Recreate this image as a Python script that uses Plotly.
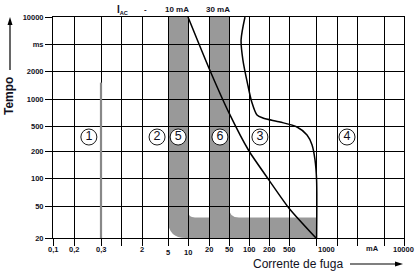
import numpy as np
import plotly.graph_objects as go

# ---------------- data ----------------
# schematic axis: values at each vertical grid line (mA) and their drawn positions
GRID_MA = [0.1, 0.2, 0.3, 1, 2, 5, 10, 20, 50, 100, 200, 500, 1000, 2000, 5000, 7000, 10000]
GRID_MS = [20, 50, 100, 200, 500, 1000, 2000, 5000, 10000]
Y_TICK_TEXT = ["20", "50", "100", "200", "500", "1000", "2000", "ms", "10000"]

X_TICK_TEXT = ["0,1", "0,2", "0,3", "2", "5", "10", "20", "50", "100", "200", "500", "1000", "mA", "10000"]

# gray bands (10 mA and 30 mA devices): mA limits
BAND5_MA = [5, 10]
BAND6_MA = [20, 50]
FOOT_END_MA = 1000
FOOT_TOP_MS = 36

# curve A (straight-ish)
CURVE_A_MA = [10, 20, 50, 100, 200, 500, 1000]
CURVE_A_MS = [10000, 2200, 700, 200, 95, 47, 20]

# curve B
CURVE_B_MA = [87, 76, 81, 96, 110, 132, 162, 331, 614, 794, 904, 975, 1020, 1020]
CURVE_B_MS = [10000, 5540, 2900, 1414, 926, 663, 614, 554, 482, 360, 250, 159, 95, 20]

# 0,3 mA threshold line
THRESH_MA = 0.3
THRESH_MS = [1500, 20]

ZONE_LABELS = ["1", "2", "5", "6", "3", "4"]
ZONE_MA = [0.25, 3.4, 7.1, 33, 146, 3162]
ZONE_MS = 334

# ---------------- layout (drawn positions, px) ----------------
W, H = 419, 273
L, R, T, B = 53, 15, 17, 35
GRID_XPOS = [53, 74, 101, 121, 142, 168, 188, 209, 229, 249, 269, 289, 316, 337, 357, 384, 404]
GRID_YPOS = [238, 206, 178, 151, 126, 99, 71, 44, 17]
X_LABEL_POS = [53, 74, 101, 142, 168, 188, 209, 229, 249, 269, 289, 326, 372, 403]
X_LABEL_Y = [249, 249, 249, 249, 252, 252, 249, 249, 249, 249, 249, 249, 248, 249]


def xpos(ma):
    return np.interp(np.log10(ma), np.log10(GRID_MA), GRID_XPOS)


def ypos(ms):
    return np.interp(np.log10(ms), np.log10(GRID_MS), GRID_YPOS)


def px(x):
    return (x - L) / (W - L - R)


def py(y):
    return (H - B - y) / (H - T - B)


FONT = "Liberation Sans, Arial, sans-serif"
INK = "#111122"

fig = go.Figure()

# gray band shape
b5l, b5r = xpos(BAND5_MA[0]), xpos(BAND5_MA[1])
b6l, b6r = xpos(BAND6_MA[0]), xpos(BAND6_MA[1])
fe = xpos(FOOT_END_MA)
top, bot = ypos(max(GRID_MS)), ypos(min(GRID_MS))
ft = ypos(FOOT_TOP_MS)
RO, RI5, RI6 = 18, 7, 10
path = (f"M {b5l},{top} L {b5l},{bot-RO} Q {b5l},{bot} {b5l+RO},{bot} "
        f"L {fe},{bot} L {fe},{ft} L {b6r+RI6},{ft} Q {b6r},{ft} {b6r},{ft-RI6} "
        f"L {b6r},{top} L {b6l},{top} L {b6l},{ft} L {b5r+RI5},{ft} "
        f"Q {b5r},{ft} {b5r},{ft-RI5} L {b5r},{top} Z")
fig.add_shape(type="path", path=path, xref="x", yref="y",
              fillcolor="#999999", line=dict(width=0), layer="below")

# axis-title arrows (paper coordinates)
fig.add_shape(type="line", xref="paper", yref="paper", x0=px(10), x1=px(10), y0=py(70), y1=py(24),
              line=dict(color="black", width=1.2))
fig.add_shape(type="path", xref="paper", yref="paper",
              path=f"M {px(10)},{py(17)} L {px(7.5)},{py(25)} L {px(12.5)},{py(25)} Z",
              fillcolor="black", line=dict(width=0))
fig.add_shape(type="line", xref="paper", yref="paper", x0=px(350), x1=px(396), y0=py(264), y1=py(264),
              line=dict(color="black", width=1.2))
fig.add_shape(type="path", xref="paper", yref="paper",
              path=f"M {px(403)},{py(264)} L {px(395)},{py(261.5)} L {px(395)},{py(266.5)} Z",
              fillcolor="black", line=dict(width=0))

# threshold line
fig.add_trace(go.Scatter(x=[xpos(THRESH_MA)] * 2, y=ypos(np.array(THRESH_MS)),
                         mode="lines", line=dict(color="#888888", width=2.2),
                         hoverinfo="skip", showlegend=False))

# curves
fig.add_trace(go.Scatter(x=xpos(np.array(CURVE_A_MA)), y=ypos(np.array(CURVE_A_MS)),
                         mode="lines", line=dict(color="black", width=1.5, shape="spline", smoothing=0.6),
                         hoverinfo="skip", showlegend=False))
fig.add_trace(go.Scatter(x=xpos(np.array(CURVE_B_MA)), y=ypos(np.array(CURVE_B_MS)),
                         mode="lines", line=dict(color="black", width=1.5, shape="spline", smoothing=0.8),
                         hoverinfo="skip", showlegend=False))

# zone markers
fig.add_trace(go.Scatter(x=xpos(np.array(ZONE_MA)), y=[ypos(ZONE_MS)] * len(ZONE_MA),
                         mode="markers+text", text=ZONE_LABELS, textposition="middle center",
                         textfont=dict(family=FONT, size=12.5, color=INK),
                         marker=dict(size=16, color="white", line=dict(color="black", width=0.9)),
                         cliponaxis=False, hoverinfo="skip", showlegend=False))

ann = []
for t, x, y in zip(X_TICK_TEXT, X_LABEL_POS, X_LABEL_Y):
    ann.append(dict(text=f"<b>{t}</b>", x=px(x), y=py(y), xref="paper", yref="paper",
                    showarrow=False, font=dict(family=FONT, size=7.5, color=INK),
                    xanchor="center", yanchor="middle"))

# top labels
for t, x in [("<span style='font-size:10px'>I</span><sub>AC</sub>", 122), ("-", 145),
             ("10 mA", 177), ("30 mA", 218)]:
    ann.append(dict(text=f"<b>{t}</b>", x=px(x), y=py(10), xref="paper", yref="paper",
                    showarrow=False, font=dict(family=FONT, size=8, color=INK),
                    xanchor="center", yanchor="middle"))

# axis titles
ann.append(dict(text="<b>Tempo</b>", x=px(9), y=py(96), xref="paper", yref="paper",
                showarrow=False, textangle=-90, font=dict(family=FONT, size=12, color=INK),
                xanchor="center", yanchor="middle"))
ann.append(dict(text="Corrente de fuga", x=px(298), y=py(264), xref="paper", yref="paper",
                showarrow=False, font=dict(family=FONT, size=12, color=INK),
                xanchor="center", yanchor="middle"))

fig.update_layout(
    width=W, height=H, margin=dict(l=L, r=R, t=T, b=B),
    paper_bgcolor="white", plot_bgcolor="white",
    annotations=ann, showlegend=False,
    xaxis=dict(range=[GRID_XPOS[0], GRID_XPOS[-1]], tickvals=GRID_XPOS, showticklabels=False,
               showgrid=True, gridcolor="black", gridwidth=1, zeroline=False,
               ticks="outside", ticklen=7, tickcolor="black", tickwidth=1,
               showline=True, linecolor="black", linewidth=1, mirror=True, fixedrange=True),
    yaxis=dict(range=[GRID_YPOS[0], GRID_YPOS[-1]], tickvals=GRID_YPOS, ticktext=Y_TICK_TEXT,
               showticklabels=True, tickfont=dict(family=FONT, size=7.5, color=INK, weight="bold"),
               showgrid=True, gridcolor="black", gridwidth=1, zeroline=False,
               ticks="outside", ticklen=7, tickcolor="black", tickwidth=1,
               showline=True, linecolor="black", linewidth=1, mirror=True, fixedrange=True),
)

fig.write_html("out.html")
